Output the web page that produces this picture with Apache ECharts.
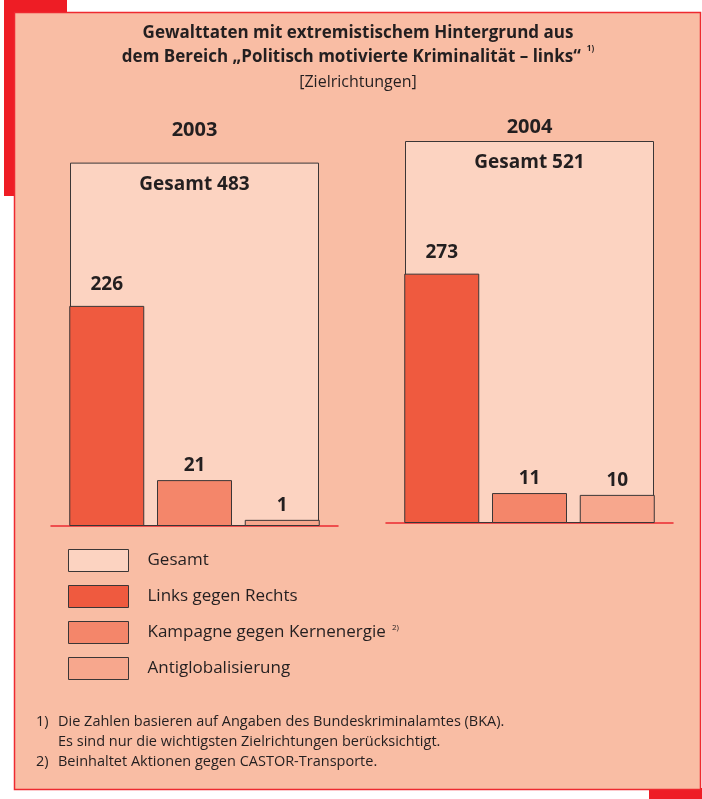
<!DOCTYPE html>
<html>
<head>
<meta charset="utf-8">
<script src="https://cdn.jsdelivr.net/npm/echarts@6/dist/echarts.min.js"></script>
<style>
  html, body { margin: 0; padding: 0; background: #ffffff; }
  #chart { width: 702px; height: 799px; }
</style>
</head>
<body>
<div id="chart"></div>
<script>
// ---- Data ----
const years = ['2003', '2004'];
const gesamt = [483, 521];
const linksGegenRechts = [226, 273];
const kampagneKernenergie = [21, 11];
const antiglobalisierung = [1, 10];
const legendNames = ['Gesamt', 'Links gegen Rechts', 'Kampagne gegen Kernenergie', 'Antiglobalisierung'];

// ---- Styling ----
const FONT = '"Open Sans", "Noto Sans", sans-serif';
const TXT = '#231f20';
const BORDER = '#3b3636';
const colors = {
  'Gesamt': '#fcd3c1',
  'Links gegen Rechts': '#ef5a3f',
  'Kampagne gegen Kernenergie': '#f4866a',
  'Antiglobalisierung': '#f7a78d'
};

// The original graphic is not drawn to a linear scale; a power display scale
// (exponent 0.66) approximates its proportions. Labels show the true values.
const EXP = 0.66;
const disp = v => Math.pow(v, EXP);
const yMax = Math.max(...gesamt.map(disp));

const gridDefs = [
  { left: 51, top: 144, width: 287, height: 382 },
  { left: 386, top: 141, width: 287, height: 382 }
];

const xAxes = [];
const yAxes = [];
const series = [];

years.forEach((yr, i) => {
  xAxes.push({
    type: 'category', gridIndex: i, position: 'bottom', data: [yr],
    axisLine: { show: true, lineStyle: { color: '#ec2a30', width: 1.5 } },
    axisTick: { show: false }, axisLabel: { show: false }, splitLine: { show: false }
  });
  xAxes.push({
    type: 'category', gridIndex: i, position: 'top', data: [yr],
    axisLine: { show: false }, axisTick: { show: false }, splitLine: { show: false },
    axisLabel: { show: true, margin: 4, fontFamily: FONT, fontSize: 20, fontWeight: 'bold', color: TXT }
  });
  yAxes.push({ type: 'value', gridIndex: i, min: 0, max: yMax, show: false });

  series.push({
    name: 'Gesamt', type: 'bar', xAxisIndex: 2 * i + 1, yAxisIndex: i,
    barWidth: 249,
    data: [{ value: disp(gesamt[i]), raw: gesamt[i] }],
    itemStyle: { color: colors['Gesamt'], borderColor: BORDER, borderWidth: 1 },
    label: {
      show: true, position: 'insideTop', distance: 12,
      formatter: p => 'Gesamt ' + p.data.raw,
      fontFamily: FONT, fontSize: 19, fontWeight: 'bold', color: TXT
    },
    silent: true, animation: false
  });

  const parts = [
    ['Links gegen Rechts', linksGegenRechts, 12],
    ['Kampagne gegen Kernenergie', kampagneKernenergie, 5],
    ['Antiglobalisierung', antiglobalisierung, 5]
  ];
  parts.forEach(([name, arr, dist]) => {
    series.push({
      name: name, type: 'bar', xAxisIndex: 2 * i, yAxisIndex: i,
      barWidth: 75, barGap: '17%',
      data: [{ value: disp(arr[i]), raw: arr[i] }],
      itemStyle: { color: colors[name], borderColor: BORDER, borderWidth: 1 },
      label: {
        show: true, position: 'top', distance: dist,
        formatter: p => String(p.data.raw),
        fontFamily: FONT, fontSize: 19, fontWeight: 'bold', color: TXT
      },
      silent: true, animation: false
    });
  });
});

const option = {
  backgroundColor: '#ffffff',
  animation: false,
  graphic: [
    { type: 'rect', z: -10, shape: { x: 4, y: 0, width: 63, height: 14 }, style: { fill: '#ee1d25' } },
    { type: 'rect', z: -10, shape: { x: 4, y: 0, width: 11, height: 196 }, style: { fill: '#ee1d25' } },
    { type: 'rect', z: -10, shape: { x: 649, y: 788, width: 53, height: 11 }, style: { fill: '#ee1d25' } },
    { type: 'rect', z: -9, shape: { x: 14.5, y: 12.5, width: 686, height: 777 },
      style: { fill: '#f9bda4', stroke: '#ee2a30', lineWidth: 1.5 } }
  ],
  title: [
    {
      left: 358, top: 21, textAlign: 'center', padding: 0,
      text: '{b|Gewalttaten mit extremistischem Hintergrund aus}\n' +
            '{b|dem Bereich „Politisch motivierte Kriminalität – links“}{sup| 1)}\n' +
            '{n|[Zielrichtungen]}',
      textStyle: {
        rich: {
          b: { fontFamily: FONT, fontSize: 17, fontWeight: 'bold', color: TXT, lineHeight: 24 },
          sup: { fontFamily: FONT, fontSize: 8, color: TXT, verticalAlign: 'top', lineHeight: 16, padding: [0, 0, 0, 4] },
          n: { fontFamily: FONT, fontSize: 16, fontWeight: 'normal', color: TXT, lineHeight: 27 }
        }
      }
    },
    {
      left: 36, top: 712, padding: 0,
      text: '1)\n\n2)',
      textStyle: { fontFamily: FONT, fontSize: 14.5, fontWeight: 'normal', color: TXT, lineHeight: 20 }
    },
    {
      left: 58, top: 712, padding: 0,
      text: 'Die Zahlen basieren auf Angaben des Bundeskriminalamtes (BKA).\n' +
            'Es sind nur die wichtigsten Zielrichtungen berücksichtigt.\n' +
            'Beinhaltet Aktionen gegen CASTOR-Transporte.',
      textStyle: { fontFamily: FONT, fontSize: 14.5, fontWeight: 'normal', color: TXT, lineHeight: 20 }
    }
  ],
  legend: {
    data: legendNames,
    orient: 'vertical', left: 68, top: 549, padding: 0,
    itemWidth: 60, itemHeight: 22, itemGap: 13,
    icon: 'rect',
    selectedMode: false,
    itemStyle: { borderColor: BORDER, borderWidth: 1 },
    formatter: name => name === 'Kampagne gegen Kernenergie'
      ? '{t|' + name + '}{s| 2)}'
      : '{t|' + name + '}',
    textStyle: {
      fontFamily: FONT, fontSize: 17, color: TXT,
      rich: {
        t: { fontFamily: FONT, fontSize: 17, color: TXT, padding: [0, 0, 0, 14] },
        s: { fontFamily: FONT, fontSize: 8, color: TXT, verticalAlign: 'top', padding: [0, 0, 0, 4] }
      }
    }
  },
  grid: gridDefs,
  xAxis: xAxes,
  yAxis: yAxes,
  series: series
};

const chart = echarts.init(document.getElementById('chart'), null, { renderer: 'canvas' });
chart.setOption(option);
</script>
</body>
</html>
